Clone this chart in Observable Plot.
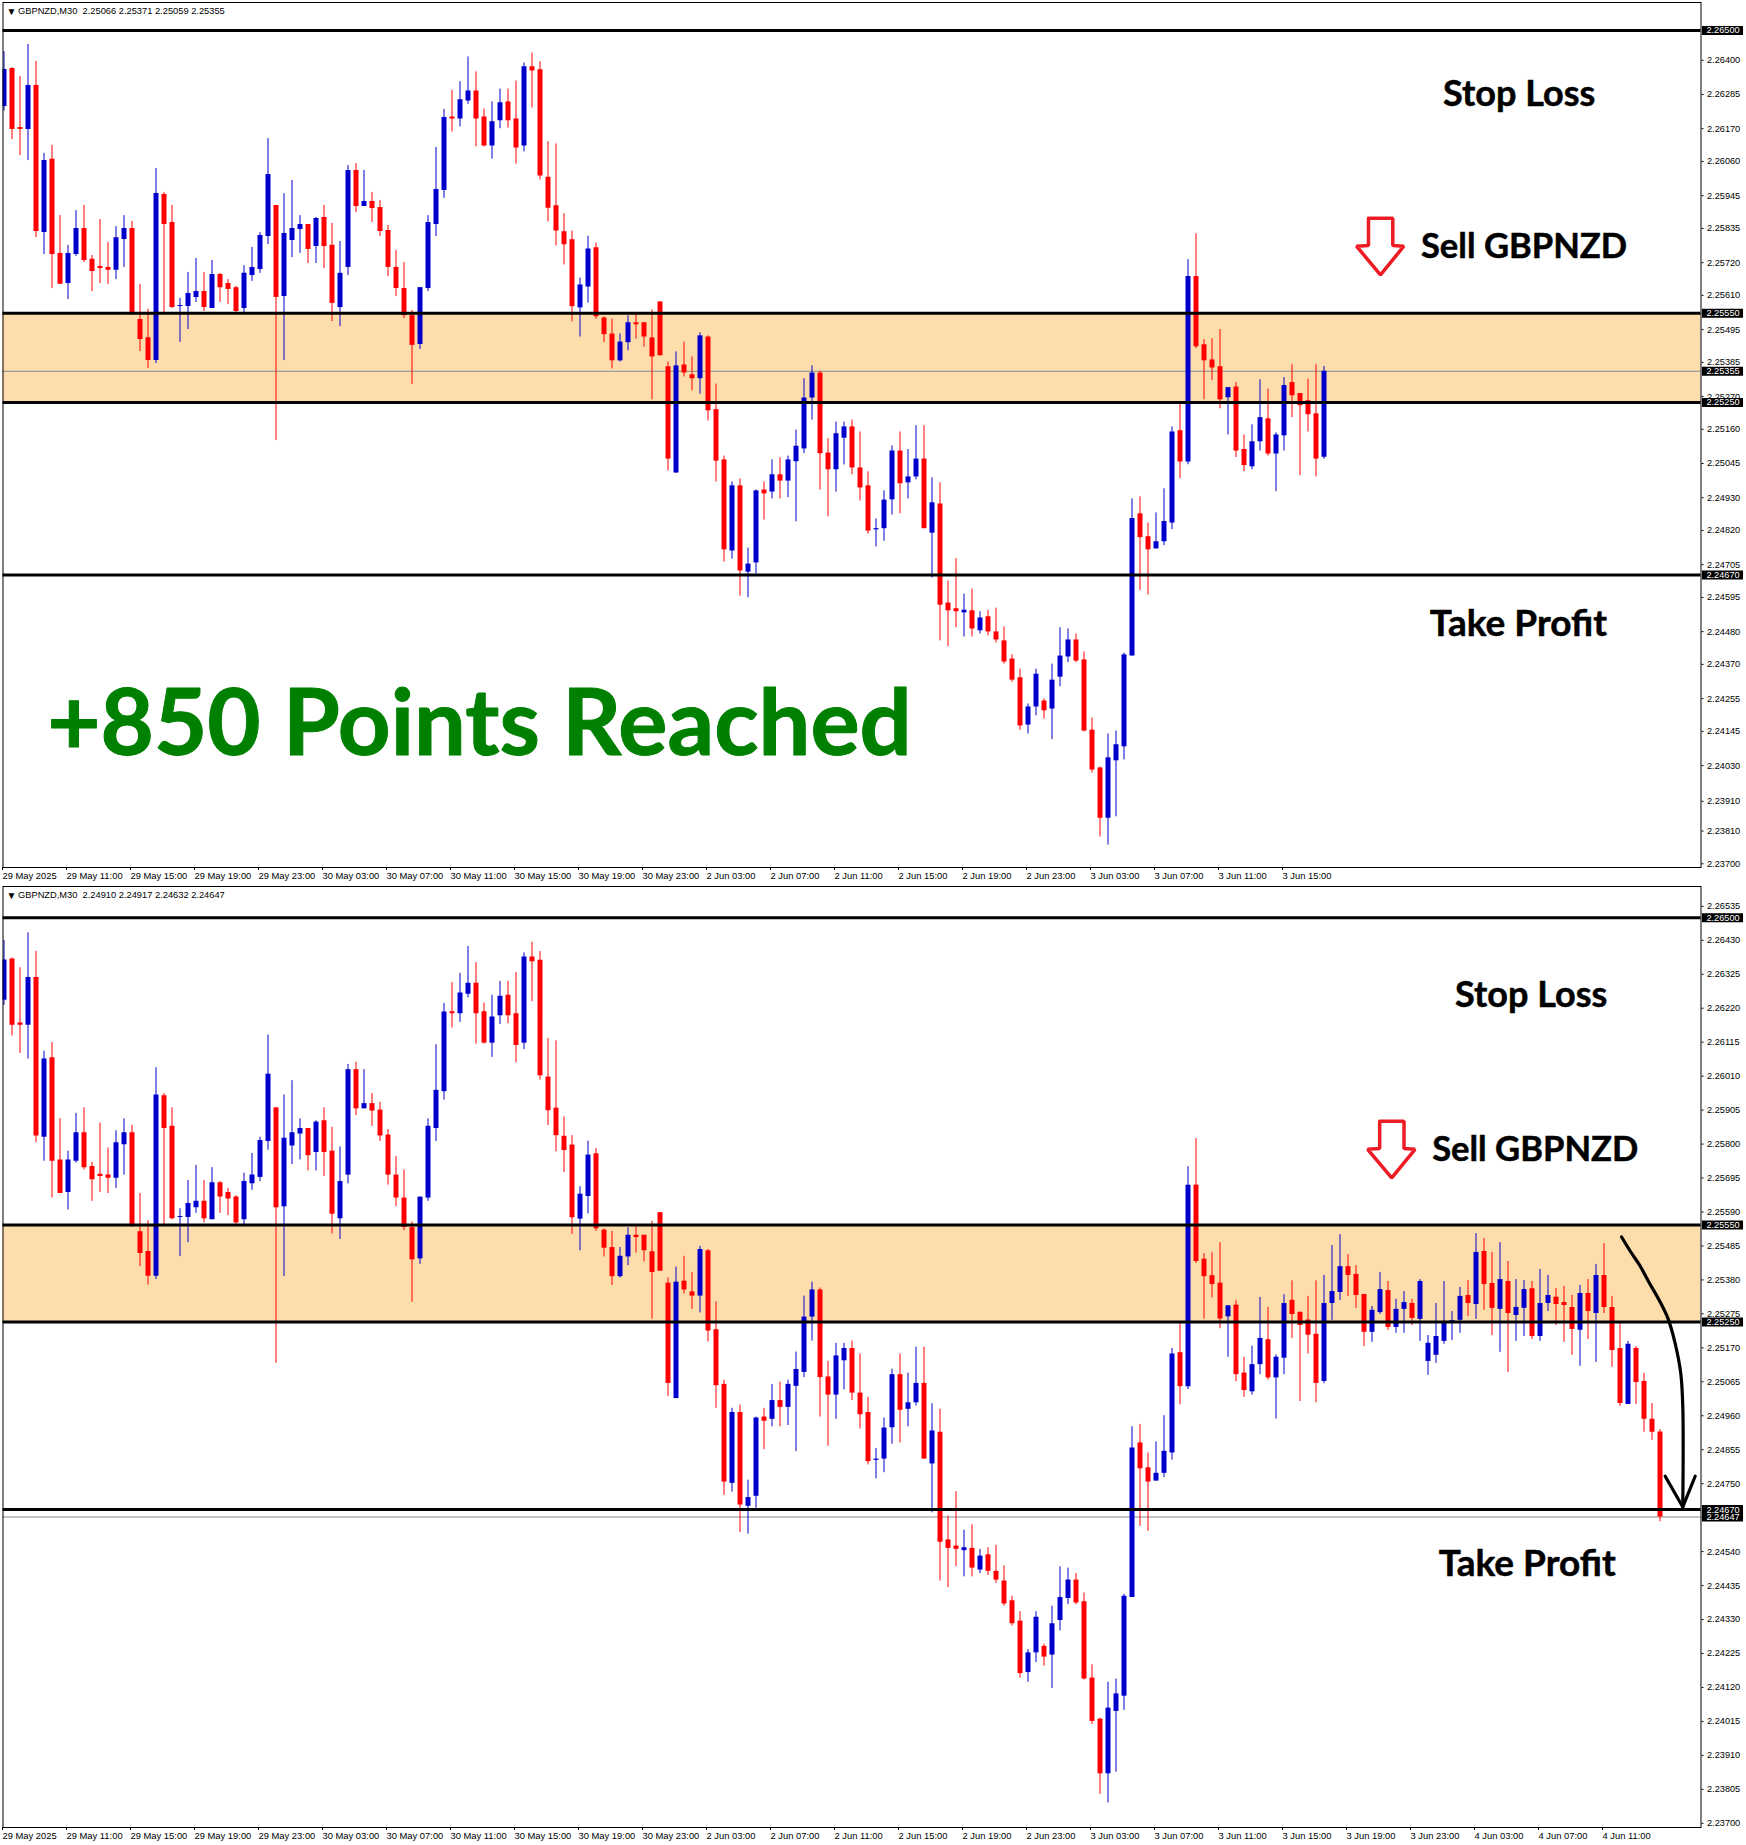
<!DOCTYPE html>
<html><head><meta charset="utf-8">
<script src="https://cdn.jsdelivr.net/npm/d3@7"></script>
<script src="https://cdn.jsdelivr.net/npm/@observablehq/plot@0.6"></script>
<style>html,body{margin:0;padding:0;background:#fff}svg{display:block}#c{width:1746px}</style>
</head><body><div id="c"></div>
<script>
// prices in 1e-5 units, one entry per M30 bar
const high=[226429,226375,226345,226453,226396,226087,226114,225878,225778,225895,
225912,225744,225865,225788,225841,225878,225858,225647,225563,226036,
225956,225912,225600,225687,225734,225687,225727,225684,225663,225640,
225710,225771,225821,226137,225912,225952,225996,225878,225848,225872,
225912,225852,225791,226046,226053,226030,225956,225929,225845,225761,
225720,225559,225636,225878,226107,226235,226299,226328,226411,226361,
226236,226260,226303,226303,226330,226391,226424,226395,226126,226119,
225884,225826,225668,225809,225786,225538,225530,225480,225541,225544,
225518,225561,225588,225386,225420,225453,225403,225484,225474,225312,
225070,224983,224993,224761,224956,224983,225057,225064,225070,225157,
225330,225373,225355,225128,225184,225184,225191,225151,225017,224859,
224953,225104,225151,225092,225172,225172,224997,224980,224650,224725,
224606,224623,224547,224552,224559,224496,224402,224354,224237,224354,
224254,224371,224493,224489,224472,224412,224190,224025,224136,224146,
224408,224926,224933,224845,224879,224960,225168,225251,225730,225817,
225461,225464,225495,225300,225317,225141,225175,225326,225295,225148,
225334,225377,225280,225329,225377,225394,225486,225520,225458,225424,
225335,225298,225403,225375,225320,225344,225320,225381,225208,225307,
225375,225282,225357,225378,225523,225508,225465,225495,225437,225381,
225378,225375,225412,225394,225353,225360,225332,225363,225381,225428,
225492,225329,225245,225190,225174,225091,224998,224917];
const low=[226229,226134,226080,226063,225804,225747,225633,225647,225596,225741,
225720,225623,225650,225647,225663,225704,225542,225421,225364,225381,
225548,225566,225452,225495,225586,225556,225566,225586,225579,225552,
225551,225657,225684,225781,225122,225391,225737,225751,225717,225717,
225700,225522,225505,225677,225888,225909,225855,225808,225673,225606,
225532,225311,225428,225623,225808,225936,226159,226176,226252,226109,
226109,226068,226170,226172,226051,226092,226240,225998,225857,225776,
225712,225521,225470,225584,225530,225451,225363,225386,225424,225463,
225436,225259,225407,225020,225013,225336,225289,225278,225188,224983,
224714,224724,224599,224594,224674,224855,224926,224926,224930,224849,
225078,225191,224956,224866,224949,225040,225007,224919,224808,224765,
224784,224872,224876,224926,224990,224826,224660,224449,224429,224493,
224462,224462,224472,224466,224442,224371,224310,224149,224136,224197,
224186,224117,224295,224376,224376,224143,224005,223790,223763,223858,
224049,224398,224618,224603,224758,224769,224823,224994,225041,225431,
225259,225324,225229,225141,225065,225017,225024,225087,225070,224950,
225087,225199,225004,225151,225000,225059,225255,225316,225329,225292,
225174,225187,225273,225224,225215,225215,225239,225190,225085,225122,
225181,225193,225215,225267,225258,225286,225208,225156,225094,225190,
225205,225196,225190,225282,225239,225187,225147,225113,225196,225125,
225276,225110,224989,224995,224995,224909,224884,224632];
const open=[226245,226372,226174,226167,226315,225821,226067,225751,225650,225747,
225835,225731,225707,225704,225694,225798,225835,225529,225468,225391,
225949,225855,225573,225573,225603,225623,225566,225680,225650,225636,
225566,225677,225697,225808,225912,225606,225794,225831,225848,225774,
225872,225778,225569,225704,226030,225909,225925,225905,225828,225704,
225633,225542,225445,225633,225848,225962,226209,226203,226263,226297,
226209,226112,226197,226260,226203,226112,226378,226368,226007,225911,
225824,225797,225568,225638,225770,225534,225480,225390,225451,225518,
225518,225467,225588,225370,225013,225376,225343,225330,225470,225226,
225057,224751,224970,224680,224711,224956,224949,225007,224986,225051,
225094,225265,225349,225080,225024,225130,225168,225030,224970,224822,
224826,224923,225087,224980,225000,225060,224811,224909,224576,224557,
224543,224550,224483,224530,224479,224449,224388,224325,224166,224227,
224247,224220,224327,224395,224452,224385,224149,224022,223853,224046,
224093,224398,224876,224799,224758,224782,224845,225155,225050,225673,
225444,225393,225370,225266,225302,225092,225034,225118,225195,225077,
225138,225317,225280,225256,225212,225066,225307,225341,225421,225397,
225335,225218,225279,225347,225233,225289,225307,225258,225128,225147,
225190,225250,225255,225332,225304,225468,225369,225289,225375,225270,
225292,225353,225205,225307,225326,225310,225295,225224,225338,225276,
225394,225295,225168,224995,225168,225066,224949,224910];
const close=[226369,226167,226167,226315,225825,226063,225747,225647,225751,225835,
225727,225690,225700,225694,225804,225835,225548,225462,225391,225952,
225848,225569,225576,225616,225623,225569,225680,225636,225630,225556,
225684,225704,225811,226016,225603,225818,225835,225848,225764,225868,
225774,225583,225684,226030,225909,225925,225902,225825,225704,225633,
225542,225442,225636,225855,225966,226208,226203,226267,226297,226203,
226112,226193,226257,226197,226105,226378,226364,226011,225903,225826,
225780,225572,225645,225766,225538,225478,225390,225453,225518,225511,
225470,225403,225407,225060,225373,225349,225330,225474,225222,225053,
224755,224970,224684,224707,224953,224943,225007,224986,225057,225103,
225265,225349,225078,225024,225145,225168,225030,224963,224818,224826,
224922,225087,224977,225000,225060,224826,224913,224569,224550,224547,
224552,224489,224526,224479,224452,224378,224317,224163,224227,224337,
224214,224317,224398,224452,224381,224146,224015,223853,224056,224100,
224402,224860,224796,224755,224782,224850,225151,225050,225673,225437,
225390,225366,225259,225300,225087,225038,225118,225199,225077,225141,
225307,225273,225239,225209,225060,225307,225344,225421,225394,225332,
225218,225286,225350,225233,225289,225310,225261,225375,225184,225205,
225249,225254,225329,225307,225465,225366,225292,225381,225276,225295,
225350,225205,225307,225332,225304,225301,225227,225338,225282,225394,
225295,225162,224998,225181,225063,224949,224909,224647];
// bar still forming when the upper screenshot was taken
const upperCount=166;
const upperLastBar={open:225066,high:225371,low:225059,close:225355};

const timeLabels=["29 May 2025","29 May 11:00","29 May 15:00","29 May 19:00","29 May 23:00","30 May 03:00","30 May 07:00","30 May 11:00","30 May 15:00","30 May 19:00","30 May 23:00","2 Jun 03:00","2 Jun 07:00","2 Jun 11:00","2 Jun 15:00","2 Jun 19:00","2 Jun 23:00","3 Jun 03:00","3 Jun 07:00","3 Jun 11:00","3 Jun 15:00","3 Jun 19:00","3 Jun 23:00","4 Jun 03:00","4 Jun 07:00","4 Jun 11:00"];
const upperPriceTicks=[2.264,2.26285,2.2617,2.2606,2.25945,2.25835,2.2572,2.2561,2.25495,2.25385,2.2527,2.2516,2.25045,2.2493,2.2482,2.24705,2.24595,2.2448,2.2437,2.24255,2.24145,2.2403,2.2391,2.2381,2.237];
const lowerPriceTicks=[2.26535,2.2643,2.26325,2.2622,2.26115,2.2601,2.25905,2.258,2.25695,2.2559,2.25485,2.2538,2.25275,2.2517,2.25065,2.2496,2.24855,2.2475,2.24645,2.2454,2.24435,2.2433,2.24225,2.2412,2.24015,2.2391,2.23805,2.237];
const stopLoss=2.265, zoneTop=2.2555, zoneBottom=2.2525, takeProfit=2.2467;
const levels=[stopLoss,zoneTop,zoneBottom,takeProfit];

const BLUE="#0000CD",RED="#FF0000";
const barsAll=high.map((h,i)=>({i,open:open[i]/1e5,high:h/1e5,low:low[i]/1e5,close:close[i]/1e5}));
const upperBars=barsAll.slice(0,upperCount).map(b=>b.i===upperCount-1?{i:b.i,open:upperLastBar.open/1e5,high:upperLastBar.high/1e5,low:upperLastBar.low/1e5,close:upperLastBar.close/1e5}:b);

function panel(cfg){
  const tickIdx=d3.range(cfg.nTimeTicks).map(k=>k*8);
  const col=b=>b.close>=b.open?BLUE:RED;
  const tags=[...levels,cfg.last];
  const T={fontFamily:"Lato",fontWeight:700,textAnchor:"middle",lineAnchor:"middle",fill:"#000",stroke:"#000",strokeWidth:0.5,dy:1.5};
  return Plot.plot({
    width:1746,height:cfg.height,marginLeft:2.5,marginRight:45.5,marginTop:2,marginBottom:cfg.marginBottom,
    style:{background:"#fff",fontFamily:"'Liberation Sans'"},
    x:{domain:[-0.125,212.125],axis:null},
    y:{domain:cfg.yDomain,axis:null},
    marks:[
      Plot.rect([0],{x1:-0.125,x2:212.125,y1:zoneBottom,y2:zoneTop,fill:"#FDDDAC"}),
      Plot.ruleY([cfg.last],{stroke:"#7f8c8d",strokeWidth:1,x1:-0.125,x2:212.125}),
      Plot.ruleX(cfg.bars,{x:"i",y1:"low",y2:"high",stroke:col,strokeWidth:1,clip:true}),
      Plot.ruleX(cfg.bars,{x:"i",y1:"open",y2:"close",stroke:col,strokeWidth:5,clip:true}),
      Plot.ruleY(levels,{x1:-0.125,x2:212.125,stroke:"#000",strokeWidth:3}),
      Plot.frame({stroke:"#000",strokeWidth:1}),
      Plot.axisX({ticks:tickIdx,tickFormat:d=>timeLabels[d/8],tickSize:3,tickPadding:2,textAnchor:"start",dx:-1.5,fontSize:9.4,fill:"#000",label:null,anchor:"bottom"}),
      Plot.axisY({anchor:"right",ticks:cfg.ticks,tickFormat:".5f",tickSize:2,tickPadding:4,fontSize:9.2,fill:"#000",label:null}),
      Plot.ruleY(tags,{x1:212.31,x2:217.44,stroke:"#000",strokeWidth:9}),
      Plot.text(tags,{x:212.8,y:d=>d,text:d=>d.toFixed(5),fill:"#fff",fontSize:9.2,textAnchor:"start"}),
      Plot.text(["▼"],{frameAnchor:"top-left",dx:3.5,dy:5,fontSize:10,fill:"#000"}),
      Plot.text([cfg.header],{frameAnchor:"top-left",dx:15,dy:5,fontSize:9.3,fill:"#000"}),
      Plot.text(["Stop Loss"],{...T,x:cfg.stop[0],y:cfg.stop[1],fontSize:36}),
      Plot.text(["Sell GBPNZD"],{...T,x:cfg.sell[0],y:cfg.sell[1],fontSize:34.6}),
      Plot.text(["Take Profit"],{...T,x:cfg.tp[0],y:cfg.tp[1],fontSize:37}),
      Plot.line(cfg.arrow,{x:d=>d[0],y:d=>d[1],stroke:"#ED1C24",strokeWidth:3.5,strokeLinejoin:"miter"}),
      ...cfg.extra
    ]
  });
}

const c=document.getElementById("c");
c.append(panel({
  height:884,marginBottom:17,yDomain:[2.236875,2.265941],bars:upperBars,nTimeTicks:21,ticks:upperPriceTicks,last:2.25355,
  header:"GBPNZD,M30  2.25066 2.25371 2.25059 2.25355",
  stop:[189.4,2.262917],sell:[190,2.257786],tp:[189.3,2.245107],
  arrow:[[170.56,2.258693],[173.6,2.258693],[173.6,2.257776],[174.98,2.257752],[172.06,2.256791],[169.06,2.257752],[170.56,2.257776],[170.56,2.258693]],
  extra:[Plot.text(["+850 Points Reached"],{x:5.4,y:2.241697,dy:2,fontFamily:"Lato",fontWeight:700,fontSize:92,fill:"#008000",stroke:"#008000",strokeWidth:1,textAnchor:"start",lineAnchor:"middle"})]
}));
c.append(panel({
  height:961,marginBottom:18,yDomain:[2.23687,2.265963],bars:barsAll,nTimeTicks:26,ticks:lowerPriceTicks,last:2.24647,
  header:"GBPNZD,M30  2.24910 2.24917 2.24632 2.24647",
  stop:[190.9,2.262629],sell:[191.4,2.257869],tp:[190.4,2.245071],
  arrow:[[171.96,2.258703],[175,2.258703],[175,2.257859],[176.38,2.257838],[173.46,2.256953],[170.46,2.257838],[171.96,2.257859],[171.96,2.258703]],
  extra:[
    Plot.line([[202.2,2.255127],[203.35,2.254663],[204.46,2.254252],[205.6,2.253736],[206.9,2.25317],[208,2.252604],[208.9,2.251832],[209.6,2.250904],[209.85,2.249872],[209.85,2.246781]],{x:d=>d[0],y:d=>d[1],stroke:"#000",strokeWidth:3.2,curve:"catmull-rom"}),
    Plot.line([[207.65,2.24773],[209.85,2.246781],[211.4,2.24773]],{x:d=>d[0],y:d=>d[1],stroke:"#000",strokeWidth:3.2})
  ]
}));
</script></body></html>
